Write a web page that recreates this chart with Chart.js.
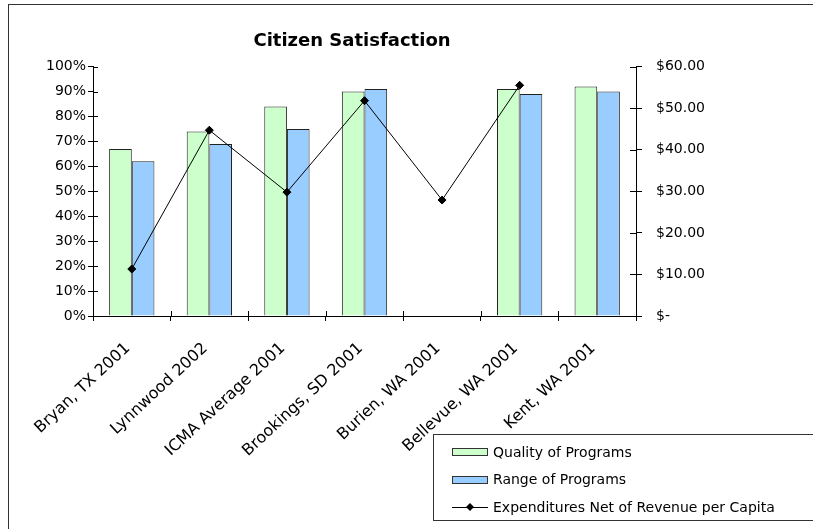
<!DOCTYPE html>
<html>
<head>
<meta charset="utf-8">
<title>Citizen Satisfaction</title>
<script src="https://cdn.jsdelivr.net/npm/chart.js@4.4.1/dist/chart.umd.min.js"></script>
<style>
  html, body { margin: 0; padding: 0; background: #fff; }
  #wrap { width: 813px; height: 529px; }
</style>
</head>
<body>
<div id="wrap"><canvas id="satisfactionChart" width="813" height="529"></canvas></div>
<script>
// Data
const categories = ['Bryan, TX 2001', 'Lynnwood 2002', 'ICMA Average 2001', 'Brookings, SD 2001', 'Burien, WA 2001', 'Bellevue, WA 2001', 'Kent, WA 2001'];
const qualityOfPrograms = [67, 74, 84, 90, null, 91, 92];
const rangeOfPrograms = [62, 69, 75, 91, null, 89, 90];
const expendituresPerCapita = [11.3, 44.7, 29.8, 51.8, 27.9, 55.5, null];
const percentTicks = ['0%', '10%', '20%', '30%', '40%', '50%', '60%', '70%', '80%', '90%', '100%'];
const dollarTicks = ['$-', '$10.00', '$20.00', '$30.00', '$40.00', '$50.00', '$60.00'];

const FONT = 'DejaVu Sans';

// Excel-style frame, legend box and tick marks that cross the axes
const excelLook = {
  id: 'excelLook',
  beforeDraw(chart) {
    const ctx = chart.ctx;
    ctx.save();
    ctx.strokeStyle = '#333';
    ctx.lineWidth = 1;
    ctx.strokeRect(8.5, 4.5, 900, 900);
    ctx.restore();
  },
  afterDraw(chart) {
    const ctx = chart.ctx;
    const { x, y, y1 } = chart.scales;
    ctx.save();
    ctx.strokeStyle = '#000';
    ctx.lineWidth = 1;
    ctx.beginPath();
    // inward half of the ticks
    for (let i = 0; i < y.ticks.length; i++) {
      const py = Math.round(y.getPixelForTick(i)) + 0.5;
      ctx.moveTo(y.right, py);
      ctx.lineTo(y.right + 5, py);
    }
    for (let i = 0; i < y1.ticks.length; i++) {
      const py = Math.round(y1.getPixelForTick(i)) + 0.5;
      ctx.moveTo(y1.left - 6, py);
      ctx.lineTo(y1.left, py);
    }
    for (let i = 0; i <= categories.length; i++) {
      const px = Math.round(x.getPixelForValue(i - 0.5)) + 0.5;
      ctx.moveTo(px, x.top - 5);
      ctx.lineTo(px, x.top);
    }
    ctx.stroke();

    // legend
    const lx = 433, ly = 434;
    ctx.strokeStyle = '#333';
    ctx.strokeRect(lx + 0.5, ly + 0.5, 500, 86);
    ctx.font = '14px "' + FONT + '"';
    ctx.textBaseline = 'middle';
    chart.data.datasets.forEach(function(ds, i) {
      const cy = 452 + i * 27.5;
      if (ds.type === 'line') {
        ctx.strokeStyle = '#000';
        ctx.beginPath();
        ctx.moveTo(452, Math.round(cy) + 0.5);
        ctx.lineTo(488, Math.round(cy) + 0.5);
        ctx.stroke();
        ctx.beginPath();
        ctx.moveTo(470, cy - 4);
        ctx.lineTo(474, cy);
        ctx.lineTo(470, cy + 4);
        ctx.lineTo(466, cy);
        ctx.closePath();
        ctx.fillStyle = '#000';
        ctx.fill();
      } else {
        ctx.fillStyle = ds.backgroundColor;
        ctx.fillRect(452, Math.round(cy) - 4, 36, 8);
        ctx.strokeStyle = '#333';
        ctx.strokeRect(452.5, Math.round(cy) - 3.5, 35, 7);
      }
      ctx.fillStyle = '#000';
      ctx.fillText(ds.label, 493, cy + 1);
    });
    ctx.restore();
  }
};

const ctx = document.getElementById('satisfactionChart').getContext('2d');
new Chart(ctx, {
  type: 'bar',
  data: {
    labels: categories,
    datasets: [{
      label: 'Quality of Programs',
      data: qualityOfPrograms,
      yAxisID: 'y',
      backgroundColor: '#CCFFCC',
      borderColor: '#222',
      borderWidth: 1,
      categoryPercentage: 0.584,
      barPercentage: 1,
      order: 1
    }, {
      label: 'Range of Programs',
      data: rangeOfPrograms,
      yAxisID: 'y',
      backgroundColor: '#99CCFF',
      borderColor: '#222',
      borderWidth: 1,
      categoryPercentage: 0.584,
      barPercentage: 1,
      order: 1
    }, {
      type: 'line',
      label: 'Expenditures Net of Revenue per Capita',
      data: expendituresPerCapita,
      yAxisID: 'y1',
      borderColor: '#000',
      backgroundColor: '#000',
      borderWidth: 1,
      pointStyle: 'rectRot',
      pointRadius: 4,
      pointBackgroundColor: '#000',
      pointBorderColor: '#000',
      tension: 0,
      order: 0
    }]
  },
  options: {
    responsive: false,
    animation: false,
    devicePixelRatio: 1,
    layout: {
      padding: { left: 0, right: 109, top: 0, bottom: 0 }
    },
    plugins: {
      legend: { display: false },
      tooltip: { enabled: false },
      title: {
        display: true,
        text: 'Citizen Satisfaction',
        color: '#000',
        font: { family: FONT, size: 18, weight: 'bold' },
        padding: { top: 31, bottom: 14 }
      }
    },
    scales: {
      x: {
        grid: { display: true, drawOnChartArea: false, drawTicks: true, tickLength: 5, color: '#000', offset: true },
        border: { display: true, color: '#000' },
        ticks: {
          autoSkip: false,
          minRotation: 43,
          maxRotation: 43,
          padding: 18,
          labelOffset: -4,
          color: '#000',
          font: { family: FONT, size: 16 }
        },
        afterFit: function(scale) { scale.height = 213; }
      },
      y: {
        position: 'left',
        min: 0,
        max: 100,
        grid: { display: true, drawOnChartArea: false, drawTicks: true, tickLength: 5, color: '#000' },
        border: { display: true, color: '#000' },
        ticks: {
          stepSize: 10,
          padding: 2,
          color: '#000',
          font: { family: FONT, size: 14 },
          callback: function(value, index) { return percentTicks[index]; }
        },
        afterFit: function(scale) { scale.width = 93; }
      },
      y1: {
        position: 'right',
        min: 0,
        max: 60,
        grid: { display: true, drawOnChartArea: false, drawTicks: true, tickLength: 6, color: '#000' },
        border: { display: true, color: '#000' },
        ticks: {
          stepSize: 10,
          padding: 14,
          color: '#000',
          font: { family: FONT, size: 14 },
          callback: function(value, index) { return dollarTicks[index]; }
        },
        afterFit: function(scale) { scale.width = 68; }
      }
    }
  },
  plugins: [excelLook]
});
</script>
</body>
</html>
